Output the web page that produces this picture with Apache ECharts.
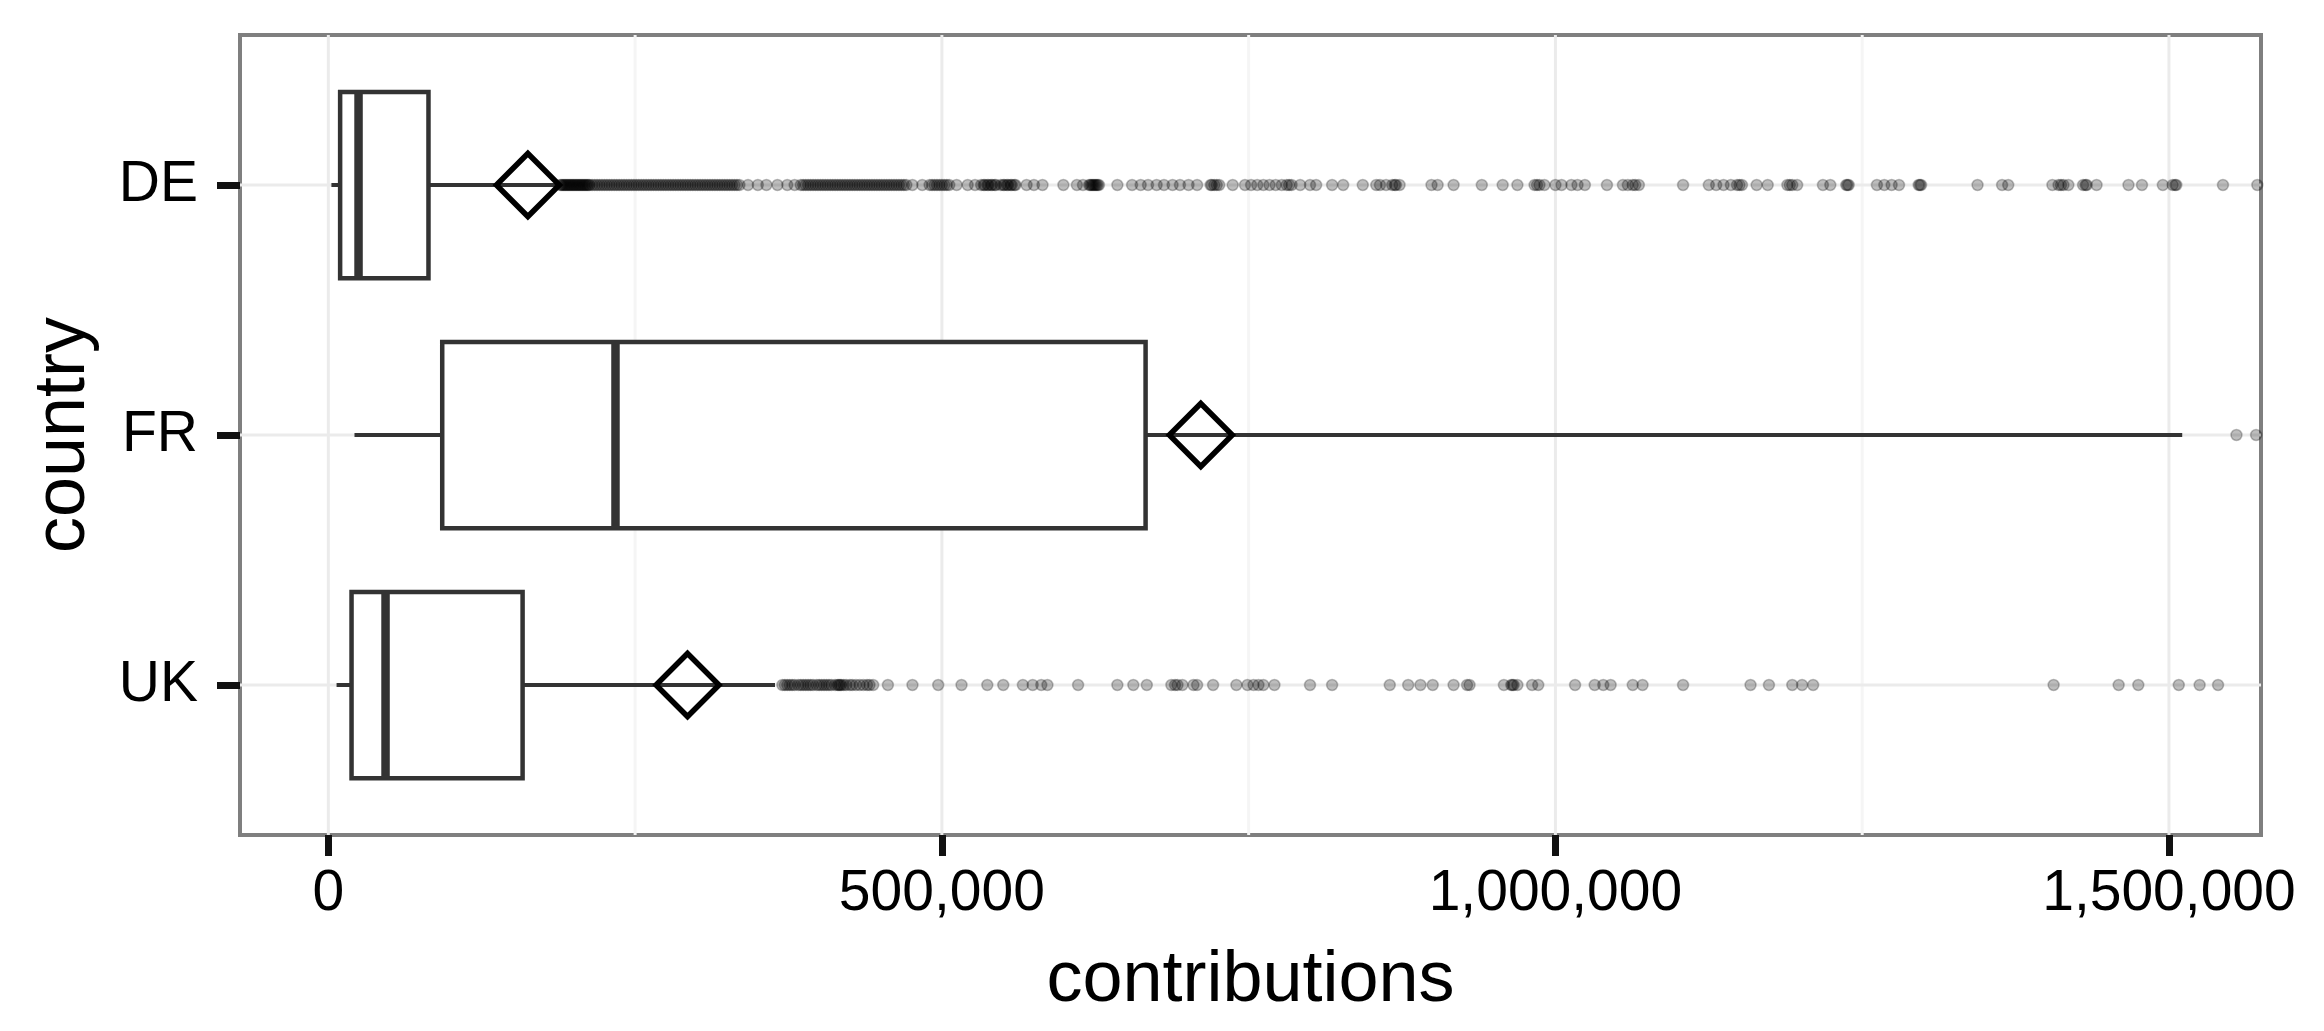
<!DOCTYPE html>
<html>
<head>
<meta charset="utf-8">
<script src="https://cdn.jsdelivr.net/npm/echarts@6/dist/echarts.min.js"></script>
<style>
html,body{margin:0;padding:0;background:#fff;}
#c{width:2324px;height:1031px;}
</style>
</head>
<body>
<div id="c"></div>
<script>
// ---- data ----
const countries = ['DE', 'FR', 'UK'];
const lowerWhisker = [2500, 21300, 6700];
const q1 = [9600, 92800, 18900];
const median = [24600, 234000, 46600];
const q3 = [81600, 666000, 158300];
const upperWhisker = [186000, 1510800, 364000];
const means = [162600, 711000, 292700];

const deOutliers = [
  189000, 190000, 191000, 192000, 193000, 194000, 195000, 196000, 197000, 198000, 199000, 200000,
  201000, 202000, 203000, 204000, 205000, 206000, 207000, 208000, 209000, 210000, 211000, 212000, 213000,
  215000, 217000, 219000, 221000, 223000, 225000, 227000, 229000, 231000, 233000, 235000, 237000,
  239000, 241000, 243000, 245000, 247000, 249000, 251000, 253000, 255000, 257000, 259000, 261000,
  263000, 265000, 267000, 269000, 271000, 273000, 275000, 277000, 279000, 281000, 283000, 285000,
  287000, 289000, 291000, 293000, 295000, 297000, 299000, 301000, 303000, 305000, 307000, 309000,
  311000, 313000, 315000, 317000, 319000, 321000, 323000, 325000, 327000, 329000, 331000, 333000, 335000,
  342000, 350000, 357000, 366000, 374000, 380000,
  385000, 387000, 389000, 391000, 393000, 395000, 397000, 399000, 401000, 403000, 405000, 407000,
  409000, 411000, 413000, 415000, 417000, 419000, 421000, 423000, 425000, 427000, 429000, 431000,
  433000, 435000, 437000, 439000, 441000, 443000, 445000, 447000, 449000, 451000, 453000, 455000,
  457000, 459000, 461000, 463000, 465000, 467000, 469000, 471000,
  476000, 484000, 490000, 492000, 494000, 496000, 498000, 500000, 502000, 504000, 506000, 512000, 521000, 527000,
  532000, 534000, 535000, 537000, 538000, 540000, 541000, 543000, 544000,
  548000, 550000, 551000, 553000, 554000, 556000, 557000, 559000, 560000,
  569000, 575000, 582000, 599000, 610000, 615000,
  620000, 621000, 622000, 623000, 624000, 625000, 626000, 627000, 628000, 643000,
  655000, 662000, 668000, 675000, 681000, 688000, 694000, 701000, 708000, 719000, 720000, 722000, 724000, 726000, 737000,
  747000, 752000, 757000, 762000, 767000, 772000, 777000, 781000, 783000, 785000, 792000, 800000, 805000,
  818000, 827000, 843000, 854000, 857000, 862000, 867000, 869000, 870000, 873000, 899000, 904000, 917000,
  940000, 957000, 969000, 983000, 985000, 987000, 991000, 1000000, 1005000, 1013000, 1018000, 1024000, 1042000,
  1055000, 1059000, 1063000, 1065000, 1068000, 1104000, 1125000, 1131000, 1137000, 1143000, 1148000, 1150000, 1152000,
  1164000, 1173000, 1189000, 1191000, 1193000, 1197000, 1218000, 1224000, 1237000, 1238000, 1239000,
  1262000, 1268000, 1274000, 1280000, 1296000, 1297000, 1298000, 1344000, 1364000, 1369000,
  1405000, 1410000, 1412000, 1414000, 1418000, 1430000, 1432000, 1433000, 1441000, 1467000, 1478000,
  1495000, 1503000, 1505000, 1506000, 1544000, 1572000
];
const frOutliers = [1555000, 1571000];
const ukOutliers = [
  370000, 372000, 374000, 376000, 378000, 380000, 383000, 385000, 387000, 389000, 391000, 393000, 395000,
  398000, 400000, 402000, 404000, 406000, 408000, 410000, 413000, 415000, 416000, 417000, 418000, 420000,
  422000, 425000, 427000, 430000, 433000, 436000, 439000, 441000, 444000, 456000, 476000,
  497000, 516000, 537000, 550000, 566000, 574000, 581000, 586000, 611000, 643000, 656000, 667000,
  687000, 690000, 692000, 696000, 705000, 708000, 721000, 740000, 749000, 754000, 758000, 762000, 771000,
  800000, 818000, 865000, 880000, 890000, 900000, 917000, 928000, 930000, 958000, 964000, 965000, 966000, 969000,
  981000, 986000, 1016000, 1032000, 1039000, 1045000, 1063000, 1071000, 1104000, 1159000, 1174000,
  1193000, 1201000, 1210000, 1406000, 1459000, 1475000, 1508000, 1525000, 1540000
];

const xTicks = [0, 500000, 1000000, 1500000];
const xMinorGrid = [250000, 750000, 1250000];
const yTicks = [1, 2, 3];

// ---- build options ----
const X_MIN = -72000, X_MAX = 1575000, Y_MIN = 0.4, Y_MAX = 3.6;
const FONT = "'Liberation Sans', Arial, Helvetica, sans-serif";

const boxData = countries.map((c, i) => [lowerWhisker[i], q1[i], median[i], q3[i], upperWhisker[i], i + 1]);
const gridData = []
  .concat(xTicks.map(v => [v, 0]))
  .concat(xMinorGrid.map(v => [v, 1]))
  .concat(yTicks.map(v => [v, 2]));

const outlierData = []
  .concat(deOutliers.map(v => [v, 1]))
  .concat(frOutliers.map(v => [v, 2]))
  .concat(ukOutliers.map(v => [v, 3]));
const meanData = means.map((m, i) => [m, i + 1]);

function fmt(v) {
  return String(Math.round(v)).replace(/\B(?=(\d{3})+(?!\d))/g, ',');
}

const chart = echarts.init(document.getElementById('c'), null, {renderer: 'canvas'});
chart.setOption({
  backgroundColor: '#ffffff',
  animation: false,
  grid: {
    left: 240, right: 63, top: 35, bottom: 196,
    show: true, borderColor: '#7f7f7f', borderWidth: 4, backgroundColor: '#ffffff'
  },
  xAxis: {
    type: 'value', min: X_MIN, max: X_MAX,
    axisLine: {show: false, onZero: false},
    splitLine: {show: false},
    axisTick: {show: true, customValues: xTicks, length: 21, lineStyle: {color: '#111', width: 7}},
    axisLabel: {customValues: xTicks, formatter: fmt, fontSize: 57, color: '#000', margin: 31, fontFamily: FONT},
    name: 'contributions', nameLocation: 'middle', nameGap: 110,
    nameTextStyle: {fontSize: 72, color: '#000', fontFamily: FONT}
  },
  yAxis: {
    type: 'value', min: Y_MIN, max: Y_MAX, inverse: true,
    axisLine: {show: false, onZero: false},
    splitLine: {show: false},
    axisTick: {show: true, customValues: yTicks, length: 23, lineStyle: {color: '#111', width: 7}},
    axisLabel: {customValues: yTicks, formatter: v => countries[Math.round(v) - 1], fontSize: 57, color: '#000', margin: 42, fontFamily: FONT},
    name: 'country', nameLocation: 'middle', nameGap: 140,
    nameTextStyle: {fontSize: 72, color: '#000', fontFamily: FONT}
  },
  series: [
    {
      type: 'custom', z: 1, silent: true,
      data: gridData,
      renderItem: function (params, api) {
        const v = api.value(0), kind = api.value(1);
        let p1, p2;
        if (kind === 2) {
          p1 = api.coord([X_MIN, v]); p2 = api.coord([X_MAX, v]);
        } else {
          p1 = api.coord([v, Y_MIN]); p2 = api.coord([v, Y_MAX]);
        }
        return {
          type: 'line',
          shape: {x1: p1[0], y1: p1[1], x2: p2[0], y2: p2[1]},
          style: {stroke: kind === 1 ? '#f5f5f5' : '#ebebeb', lineWidth: 3}
        };
      }
    },
    {
      type: 'custom', z: 2, silent: true,
      data: boxData,
      renderItem: function (params, api) {
        const yv = api.value(5);
        const pLo = api.coord([api.value(0), yv]);
        const pQ1 = api.coord([api.value(1), yv]);
        const pMed = api.coord([api.value(2), yv]);
        const pQ3 = api.coord([api.value(3), yv]);
        const pHi = api.coord([api.value(4), yv]);
        const h = Math.abs(api.size([0, 0.745])[1]);
        const cy = pQ1[1];
        const stroke = '#333333';
        return {
          type: 'group',
          children: [
            {type: 'line', shape: {x1: pLo[0], y1: cy, x2: pQ1[0], y2: cy}, style: {stroke: stroke, lineWidth: 4}},
            {type: 'line', shape: {x1: pQ3[0], y1: cy, x2: pHi[0], y2: cy}, style: {stroke: stroke, lineWidth: 4}},
            {type: 'rect', shape: {x: pQ1[0], y: cy - h / 2, width: pQ3[0] - pQ1[0], height: h},
              style: {fill: '#ffffff', stroke: stroke, lineWidth: 4.5}},
            {type: 'line', shape: {x1: pMed[0], y1: cy - h / 2, x2: pMed[0], y2: cy + h / 2},
              style: {stroke: stroke, lineWidth: 8.5}}
          ]
        };
      }
    },
    {
      type: 'scatter', z: 3, silent: true, clip: true,
      data: outlierData,
      symbol: 'circle', symbolSize: 11,
      itemStyle: {color: 'rgba(0,0,0,0.32)', borderColor: 'rgba(0,0,0,0.3)', borderWidth: 1.5}
    },
    {
      type: 'scatter', z: 4, silent: true,
      data: meanData,
      symbol: 'diamond', symbolSize: 63,
      itemStyle: {color: 'rgba(0,0,0,0)', borderColor: '#000000', borderWidth: 5.5, opacity: 1}
    }
  ]
});
</script>
</body>
</html>
